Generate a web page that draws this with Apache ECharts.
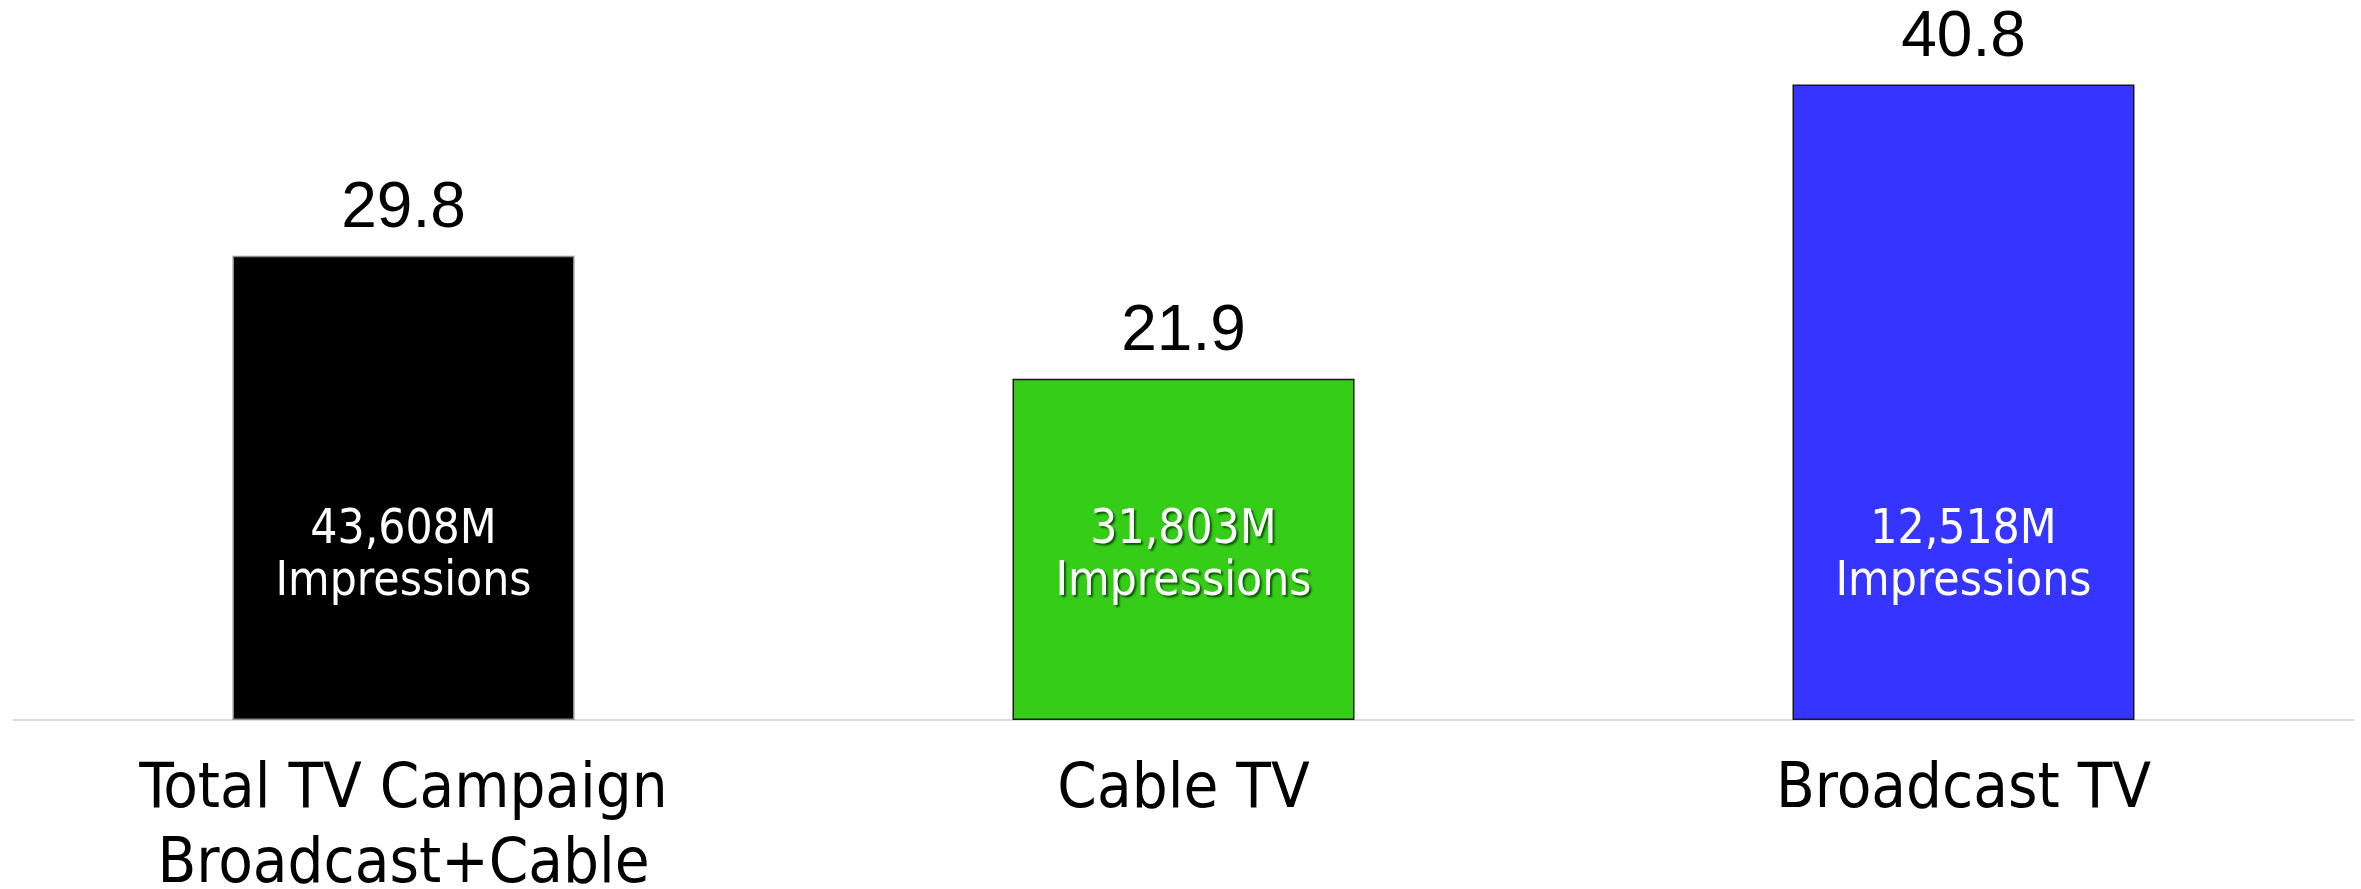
<!DOCTYPE html>
<html>
<head>
<meta charset="utf-8">
<script src="https://cdn.jsdelivr.net/npm/echarts@6/dist/echarts.min.js"></script>
<style>
  html, body { margin: 0; padding: 0; background: #fff; }
  #chart { width: 2361px; height: 889px; }
</style>
</head>
<body>
<div id="chart"></div>
<script>
// categories and values
var categories = ['Total TV Campaign\nBroadcast+Cable', 'Cable TV', 'Broadcast TV'];
var values = [29.8, 21.9, 40.8];
var impressions = [43608, 31803, 12518];  // millions
var barColors = ['#000000', '#35cd17', '#3535ff'];
var borderColors = ['#8c8c8c', '#1a1a1a', '#1a1a1a'];

var mychart = echarts.init(document.getElementById('chart'));

var mainData = values.map(function (v, i) {
  return {
    value: v,
    itemStyle: { color: barColors[i], borderColor: borderColors[i], borderWidth: 1.5 }
  };
});

//柱内的 impressions 文字
var labelData = values.map(function (v, i) {
  var lbl = {
    show: true,
    position: 'insideBottom',
    distance: 111,
    color: '#fff',
    fontFamily: "'DejaVu Sans Condensed', 'DejaVu Sans'",
    fontSize: 47.5,
    lineHeight: 52,
    formatter: impressions[i].toLocaleString('en-US') + 'M\nImpressions'
  };
  if (i == 1) {
    lbl.textShadowColor = 'rgba(0,60,0,0.8)';
    lbl.textShadowBlur = 2;
    lbl.textShadowOffsetX = 2;
    lbl.textShadowOffsetY = 2;
  }
  return { value: v, label: lbl };
});

var option = {
  animation: false,
  grid: {
    left: 13.5,
    right: 7.5,
    top: 19,
    bottom: 169,
    containLabel: false,
    outerBoundsMode: 'none'
  },
  xAxis: {
    type: 'category',
    data: categories,
    axisLine: { show: true, lineStyle: { color: '#d9d9d9', width: 2 } },
    axisTick: { show: false },
    axisLabel: {
      interval: 0,
      margin: 33,
      color: '#000',
      fontFamily: "'DejaVu Sans Condensed', 'DejaVu Sans'",
      fontSize: 63,
      lineHeight: 75
    }
  },
  yAxis: {
    type: 'value',
    min: 0,
    max: 45,
    show: false,
    splitLine: { show: false }
  },
  series: [
    {
      type: 'bar',
      barWidth: 342,
      data: mainData,
      label: {
        show: true,
        position: 'top',
        distance: 14,
        color: '#000',
        fontFamily: "'Liberation Sans', Arial",
        fontSize: 64
      }
    },
    {
      type: 'bar',
      barWidth: 342,
      barGap: '-100%',
      silent: true,
      itemStyle: { color: 'rgba(0,0,0,0)' },
      data: labelData
    }
  ]
};

mychart.setOption(option);
</script>
</body>
</html>
